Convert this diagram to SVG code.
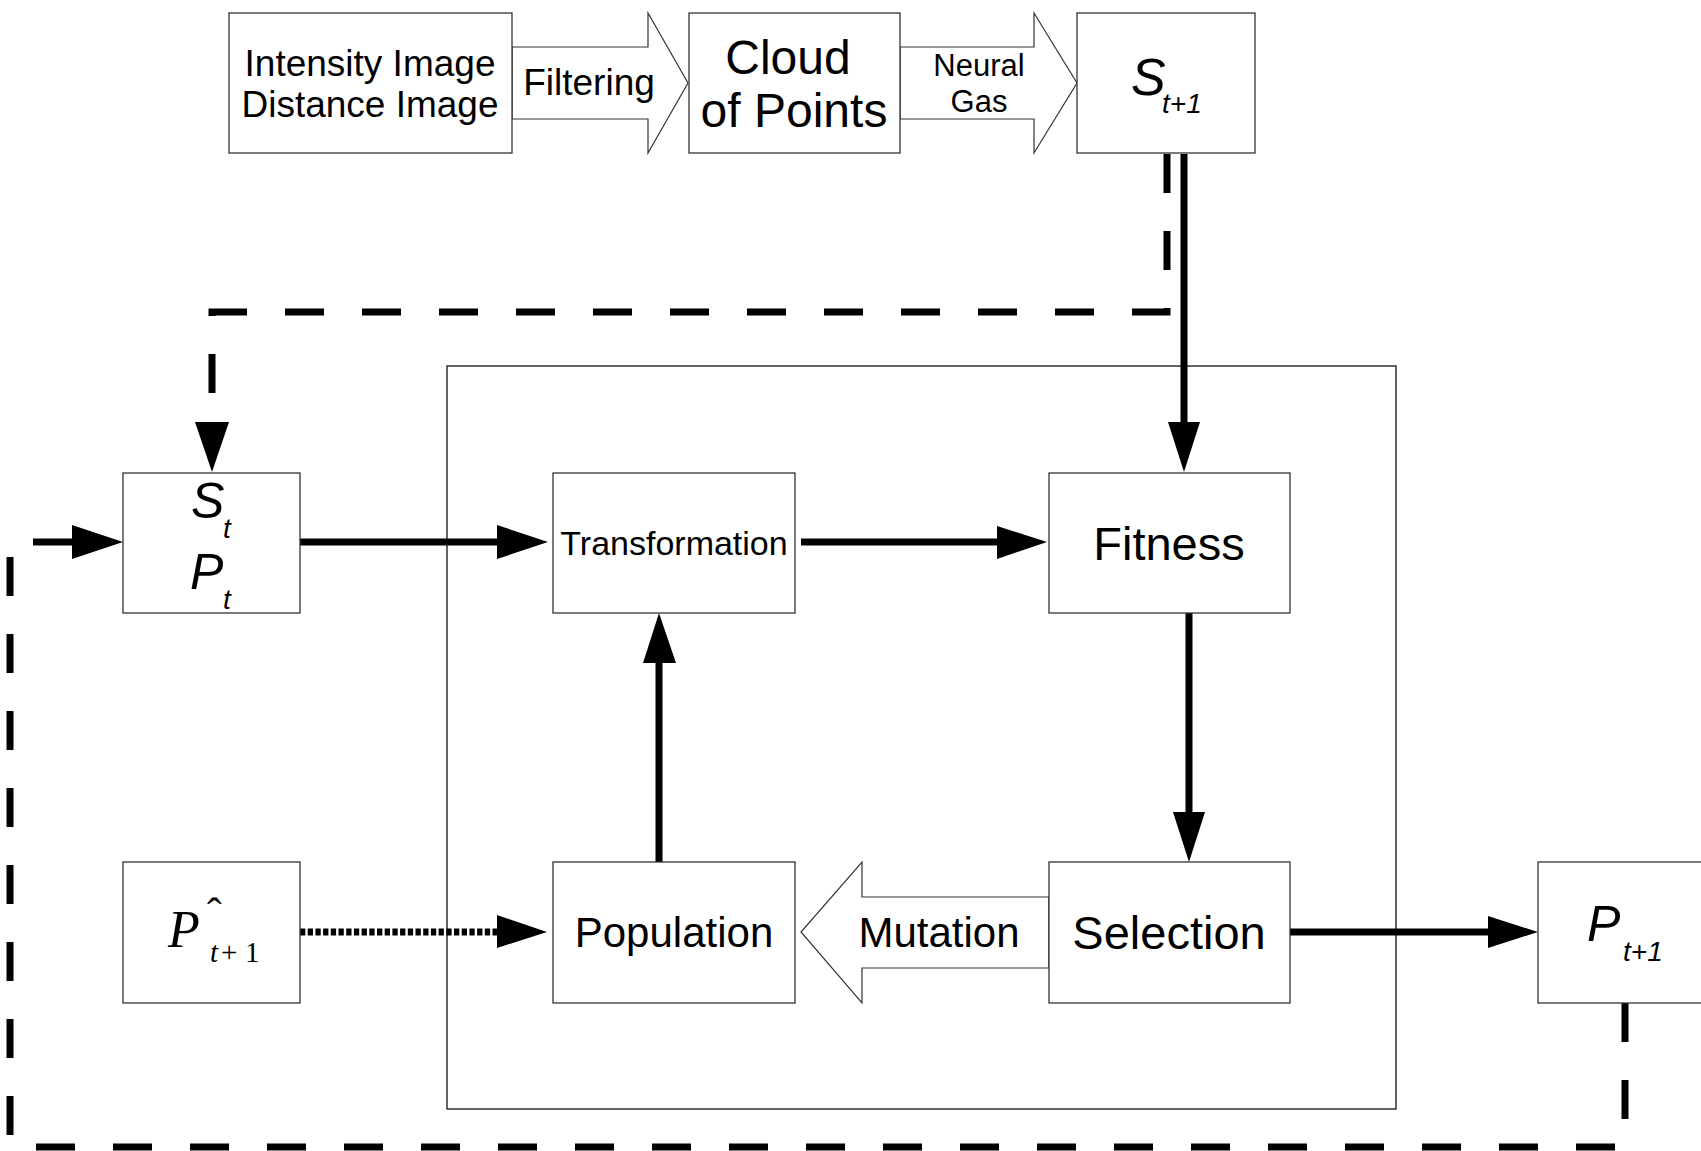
<svg xmlns="http://www.w3.org/2000/svg" width="1701" height="1151" viewBox="0 0 1701 1151">
<defs>
<style>
.box{fill:#fff;stroke:#333;stroke-width:1.3}
.frame{fill:none;stroke:#111;stroke-width:1.3}
.harrow{fill:#fff;stroke:#333;stroke-width:1.2;stroke-linejoin:miter}
.t{font-family:"Liberation Sans",Arial,sans-serif;fill:#000}
.it{font-family:"Liberation Sans",Arial,sans-serif;font-style:italic;fill:#000}
.sr{font-family:"Liberation Serif","Times New Roman",serif;fill:#000}
.ln{fill:none;stroke:#000;stroke-width:7}
.dash{fill:none;stroke:#000;stroke-width:7;stroke-dasharray:39 38}
.dot{fill:none;stroke:#000;stroke-width:7;stroke-dasharray:5.3 2.4}
.head{fill:#000}
</style>
</defs>
<rect width="1701" height="1151" fill="#fff"/>
<rect id="outer-frame" class="frame" x="447" y="366" width="949" height="743"/>
<g id="connectors">
<path class="dash" d="M1167,154 V312 H212 V422"/>
<polygon class="head" points="195,422 229,422 212,472"/>
<path class="dash" d="M1625,1003 V1147 H10 V542 H72"/>
<polygon class="head" points="72,525 72,559 123,542"/>
<path class="ln" d="M1184,154 V422"/>
<polygon class="head" points="1168,422 1200,422 1184,472"/>
<path class="ln" d="M300,542 H498"/>
<polygon class="head" points="497,525 497,559 548,542"/>
<path class="ln" d="M801,542 H998"/>
<polygon class="head" points="997,526 997,559 1047,542"/>
<path class="ln" d="M1189,613 V813"/>
<polygon class="head" points="1173,812 1205,812 1189,862"/>
<path class="ln" d="M659,862 V662"/>
<polygon class="head" points="643,663 676,663 659,613"/>
<path class="ln" d="M1290,932 H1489"/>
<polygon class="head" points="1488,916 1488,948 1538,932"/>
<path class="dot" d="M300,932 H497"/>
<polygon class="head" points="497,915 497,948 547,932"/>
<polygon id="filtering-arrow" class="harrow" points="512,47 648,47 648,13 688,83 648,153 648,119 512,119"/>
<polygon id="neural-gas-arrow" class="harrow" points="900,47 1034,47 1034,13 1077,83 1034,153 1034,119 900,119"/>
<polygon id="mutation-arrow" class="harrow" points="1049,897 862,897 862,862 801,932 862,1003 862,968 1049,968"/>
<text class="t" x="589" y="95" font-size="37" text-anchor="middle">Filtering</text>
<text class="t" x="979" y="76" font-size="31" text-anchor="middle">Neural</text>
<text class="t" x="979" y="112" font-size="31" text-anchor="middle">Gas</text>
<text class="t" x="939" y="947" font-size="42" text-anchor="middle">Mutation</text>
</g>
<g id="node-input">
<rect class="box" x="229" y="13" width="283" height="140"/>
<text class="t" x="370" y="76" font-size="37" text-anchor="middle">Intensity Image</text>
<text class="t" x="370" y="117" font-size="37" text-anchor="middle">Distance Image</text>
</g>
<g id="node-cloud">
<rect class="box" x="689" y="13" width="211" height="140"/>
<text class="t" x="788" y="74" font-size="48" text-anchor="middle">Cloud</text>
<text class="t" x="794" y="127" font-size="48" text-anchor="middle">of Points</text>
</g>
<g id="node-s-next">
<rect class="box" x="1077" y="13" width="178" height="140"/>
<text class="it" x="1131" y="95" font-size="52">S</text>
<text class="it" x="1162" y="113" font-size="28">t+1</text>
</g>
<g id="node-st-pt">
<rect class="box" x="123" y="473" width="177" height="140"/>
<text class="it" x="191" y="518" font-size="50">S</text>
<text class="it" x="223" y="538" font-size="28">t</text>
<text class="it" x="190" y="589" font-size="50">P</text>
<text class="it" x="223" y="609" font-size="28">t</text>
</g>
<g id="node-transformation">
<rect class="box" x="553" y="473" width="242" height="140"/>
<text class="t" x="674" y="555" font-size="34" text-anchor="middle">Transformation</text>
</g>
<g id="node-fitness">
<rect class="box" x="1049" y="473" width="241" height="140"/>
<text class="t" x="1169" y="560" font-size="47" text-anchor="middle">Fitness</text>
</g>
<g id="node-phat">
<rect class="box" x="123" y="862" width="177" height="141"/>
<text class="sr" x="168" y="947" font-size="52" font-style="italic">P</text>
<text class="sr" x="207" y="928" font-size="44">ˆ</text>
<text class="sr" x="210" y="962" font-size="29"><tspan font-style="italic">t</tspan><tspan x="221">+</tspan><tspan x="245">1</tspan></text>
</g>
<g id="node-population">
<rect class="box" x="553" y="862" width="242" height="141"/>
<text class="t" x="674" y="947" font-size="42" text-anchor="middle">Population</text>
</g>
<g id="node-selection">
<rect class="box" x="1049" y="862" width="241" height="141"/>
<text class="t" x="1169" y="949" font-size="47" text-anchor="middle">Selection</text>
</g>
<g id="node-p-next">
<rect class="box" x="1538" y="862" width="180" height="141"/>
<text class="it" x="1587" y="941" font-size="50">P</text>
<text class="it" x="1623" y="961" font-size="28">t+1</text>
</g>
</svg>
